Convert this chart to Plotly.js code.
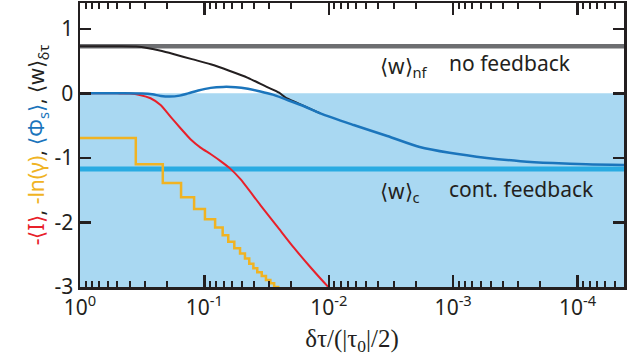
<!DOCTYPE html>
<html>
<head>
<meta charset="utf-8">
<script src="https://cdn.plot.ly/plotly-3.0.1.min.js"></script>
<style>html,body{margin:0;padding:0;background:#fff;}</style>
</head>
<body>
<div id="chart" style="width:642px;height:364px;"></div>
<script>
// x = δτ/(|τ0|/2)
var wNoFeedback = 0.73;
var wContFeedback = -1.17;
var shadeTop = 0;
var shadeBottom = -3;

var xBlack = [1, 0.501, 0.355, 0.282, 0.224, 0.178, 0.126, 0.0891, 0.0631, 0.0447, 0.0316, 0.0251, 0.0224, 0.0178, 0.0117];
var yBlack = [0.73, 0.73, 0.725, 0.70, 0.66, 0.61, 0.53, 0.45, 0.35, 0.24, 0.10, 0.01, -0.06, -0.15, -0.31];

var xBlue = [1, 0.501, 0.316, 0.263, 0.224, 0.191, 0.158, 0.135, 0.112, 0.0891, 0.0708, 0.0562, 0.0447, 0.0355, 0.0282, 0.0224, 0.0158, 0.0117, 0.00631, 0.00339, 0.00186, 0.00107, 0.000537, 0.000288, 0.000158, 0.0000851, 0.0000398];
var yBlue = [0, 0, -0.003, -0.015, -0.04, -0.05, -0.035, 0.0, 0.045, 0.085, 0.10, 0.095, 0.07, 0.03, -0.02, -0.09, -0.20, -0.31, -0.49, -0.66, -0.83, -0.92, -1.00, -1.05, -1.08, -1.10, -1.11];

var xRed = [1, 0.501, 0.398, 0.331, 0.271, 0.225, 0.1875, 0.1556, 0.1294, 0.1074, 0.0893, 0.0741, 0.0617, 0.0513, 0.0355, 0.0251, 0.0191, 0.0141, 0.0102, 0.00794];
var yRed = [0, 0, -0.003, -0.025, -0.076, -0.18, -0.36, -0.54, -0.71, -0.84, -0.94, -1.05, -1.17, -1.33, -1.73, -2.10, -2.39, -2.69, -2.99, -3.20];

var xYellow = [1, 0.356, 0.216, 0.154, 0.121, 0.099, 0.082, 0.0713, 0.0643, 0.0575, 0.0517, 0.0472, 0.0436, 0.0404, 0.0376, 0.0346, 0.032, 0.0295, 0.0275, 0.0255, 0.0235];
var yYellow = [-0.69, -1.10, -1.39, -1.61, -1.79, -1.95, -2.08, -2.20, -2.30, -2.40, -2.48, -2.56, -2.64, -2.71, -2.77, -2.83, -2.89, -2.94, -3.00, -3.04, -3.09];

var xTickVals = [1, 0.1, 0.01, 0.001, 0.0001];
var xTickText = ['10<sup>0</sup>', '10<sup>-1</sup>', '10<sup>-2</sup>', '10<sup>-3</sup>', '10<sup>-4</sup>'];
var yTickVals = [-3, -2, -1, 0, 1];
var yTickText = ['-3', '-2', '-1', '0', '1'];
var xLineSpan = [2, 0.00001];

var ink = '#231f20';
var font = 'Noto Sans, Open Sans, sans-serif';

var traces = [
  {x: xLineSpan, y: [wNoFeedback, wNoFeedback], mode: 'lines', line: {color: '#6d6e71', width: 4.5}, hoverinfo: 'skip'},
  {x: xLineSpan, y: [wContFeedback, wContFeedback], mode: 'lines', line: {color: '#29abe2', width: 5}, hoverinfo: 'skip'},
  {x: xYellow, y: yYellow, mode: 'lines', line: {color: '#f0b323', width: 2.5, shape: 'hv'}},
  {x: xRed, y: yRed, mode: 'lines', line: {color: '#e8202a', width: 2, shape: 'spline', smoothing: 0.6}},
  {x: xBlack, y: yBlack, mode: 'lines', line: {color: ink, width: 2, shape: 'spline', smoothing: 0.8}},
  {x: xBlue, y: yBlue, mode: 'lines', line: {color: '#1b75bc', width: 2.5, shape: 'spline', smoothing: 0.8}}
];

var layout = {
  width: 642, height: 364,
  margin: {l: 80, r: 18, t: 3, b: 77},
  paper_bgcolor: '#ffffff', plot_bgcolor: '#ffffff',
  showlegend: false,
  font: {family: font, color: ink, size: 21},
  xaxis: {
    type: 'log', range: [0, -4.373], autorange: false,
    tickmode: 'array', tickvals: xTickVals, ticktext: xTickText,
    ticks: 'inside', ticklen: 12, tickwidth: 2.5, tickcolor: ink,
    minor: {ticks: 'inside', ticklen: 6, tickwidth: 2, tickcolor: ink, dtick: 'D1', showgrid: false},
    showline: true, linewidth: 2.5, linecolor: ink, mirror: 'ticks',
    showgrid: false, zeroline: false,
    tickfont: {family: font, size: 21, color: ink},
    title: {text: 'δτ/(|τ<sub>0</sub>|/2)', font: {family: 'Liberation Serif, serif', size: 25, color: ink}, standoff: 10}
  },
  yaxis: {
    range: [-3, 1.4], autorange: false,
    tickmode: 'array', tickvals: yTickVals, ticktext: yTickText,
    ticks: 'inside', ticklen: 11, tickwidth: 2.5, tickcolor: ink,
    showline: true, linewidth: 2.5, linecolor: ink, mirror: 'ticks',
    showgrid: false, zeroline: false,
    tickfont: {family: font, size: 21, color: ink},
    title: {
      text: '<span style="color:#e8202a">-⟨I⟩</span>, <span style="color:#f0b323">-ln(γ)</span>, <span style="color:#1b75bc">⟨Φ<sub>s</sub>⟩</span>, ⟨w⟩<sub>δτ</sub>',
      font: {family: font, size: 21, color: ink}, standoff: 4
    }
  },
  shapes: [
    {type: 'rect', xref: 'paper', x0: 0, x1: 1, yref: 'y', y0: shadeBottom, y1: shadeTop, fillcolor: '#a9d8f2', line: {width: 0}, layer: 'below'}
  ],
  annotations: [
    {xref: 'paper', yref: 'paper', x: 0.548, y: 0.775, xanchor: 'left', yanchor: 'middle', text: '⟨w⟩<sub>nf</sub>', showarrow: false, font: {family: font, size: 21, color: ink}},
    {xref: 'paper', yref: 'paper', x: 0.674, y: 0.789, xanchor: 'left', yanchor: 'middle', text: 'no feedback', showarrow: false, font: {family: font, size: 21, color: ink}},
    {xref: 'paper', yref: 'paper', x: 0.548, y: 0.335, xanchor: 'left', yanchor: 'middle', text: '⟨w⟩<sub>c</sub>', showarrow: false, font: {family: font, size: 21, color: ink}},
    {xref: 'paper', yref: 'paper', x: 0.674, y: 0.345, xanchor: 'left', yanchor: 'middle', text: 'cont. feedback', showarrow: false, font: {family: font, size: 21, color: ink}}
  ]
};

Plotly.newPlot('chart', traces, layout, {displayModeBar: false, staticPlot: true});
</script>
</body>
</html>
